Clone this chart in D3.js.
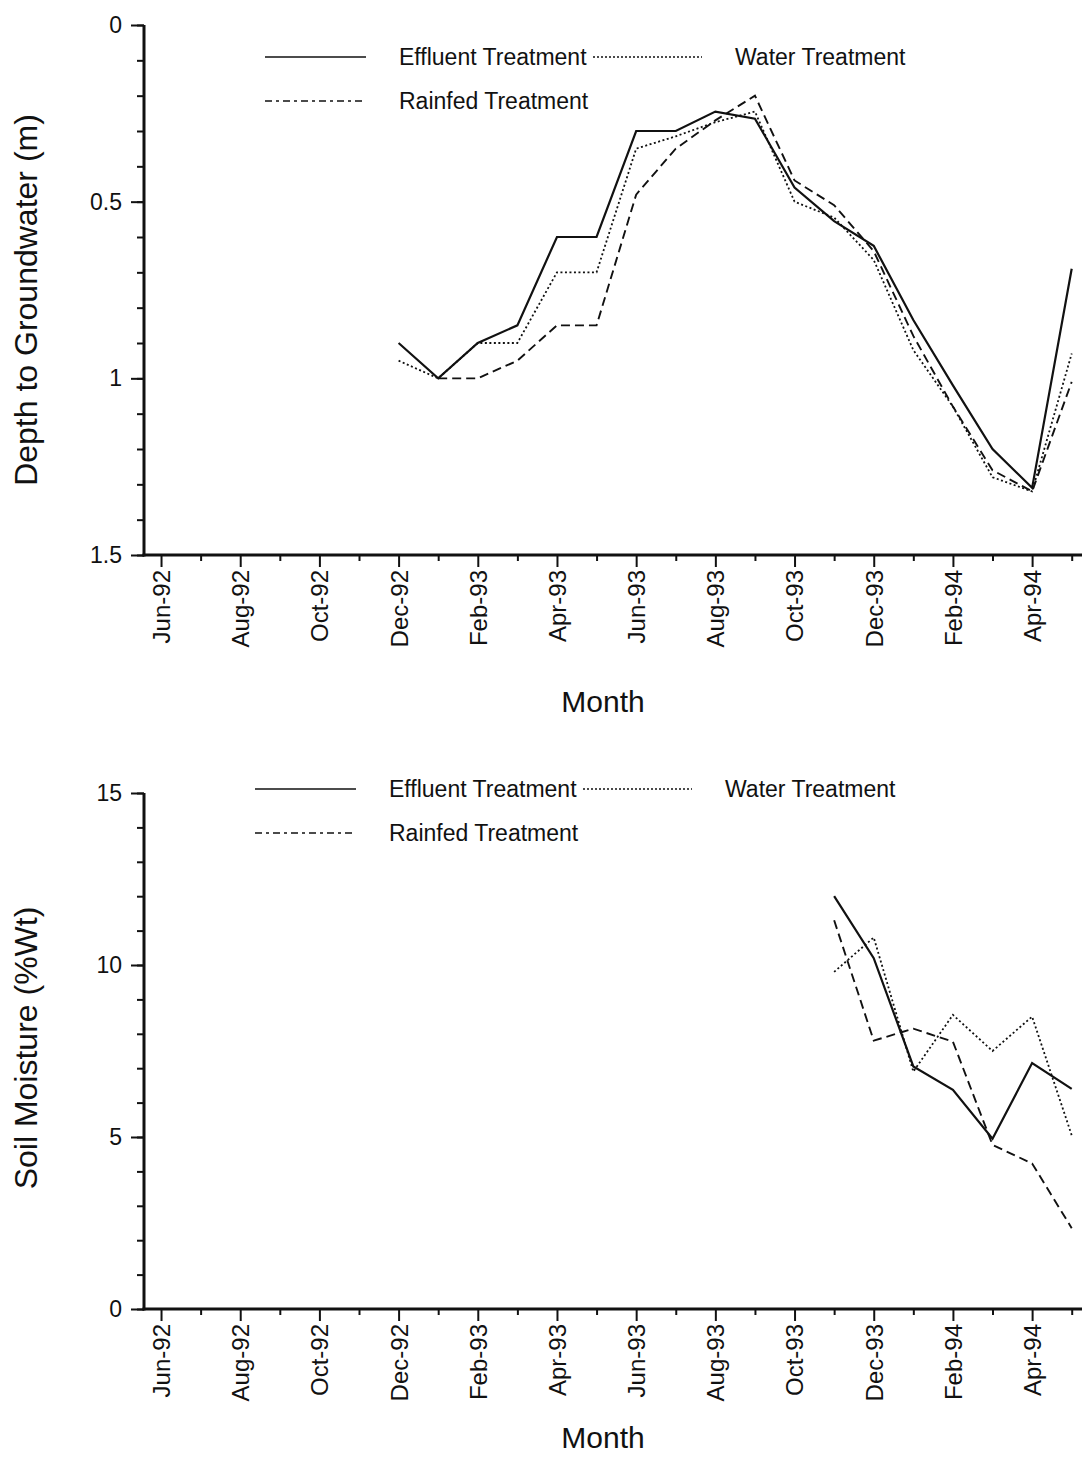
<!DOCTYPE html>
<html><head><meta charset="utf-8">
<script src="https://cdn.jsdelivr.net/npm/d3@7"></script>
<style>body{margin:0;background:#fff}svg{display:block}text{font-family:"Liberation Sans",Arial,sans-serif;fill:#111}</style>
</head><body>
<svg id="chart" width="1082" height="1469"></svg>
<script>
// Months (index 0 = Jun-92)
const months = ["Jun-92","Jul-92","Aug-92","Sep-92","Oct-92","Nov-92","Dec-92","Jan-93","Feb-93","Mar-93","Apr-93","May-93","Jun-93","Jul-93","Aug-93","Sep-93","Oct-93","Nov-93","Dec-93","Jan-94","Feb-94","Mar-94","Apr-94","May-94"];
const tickLabels = ["Jun-92","Aug-92","Oct-92","Dec-92","Feb-93","Apr-93","Jun-93","Aug-93","Oct-93","Dec-93","Feb-94","Apr-94"];

// Depth to groundwater (m), Dec-92 .. May-94
const depthMonths = ["Dec-92","Jan-93","Feb-93","Mar-93","Apr-93","May-93","Jun-93","Jul-93","Aug-93","Sep-93","Oct-93","Nov-93","Dec-93","Jan-94","Feb-94","Mar-94","Apr-94","May-94"];
const effluentDepth = [0.90,1.00,0.90,0.85,0.60,0.60,0.30,0.30,0.245,0.265,0.46,0.555,0.625,0.835,1.02,1.20,1.31,0.69];
const waterDepth    = [0.95,1.00,0.90,0.90,0.70,0.70,0.35,0.315,0.275,0.245,0.50,0.545,0.665,0.92,1.08,1.28,1.32,0.93];
const rainfedDepth  = [null,1.00,1.00,0.95,0.85,0.85,0.48,0.35,0.27,0.20,0.44,0.51,0.64,0.88,1.08,1.26,1.32,1.01];

// Soil moisture (%Wt), Nov-93 .. May-94
const moistMonths = ["Nov-93","Dec-93","Jan-94","Feb-94","Mar-94","Apr-94","May-94"];
const effluentMoist = [12.0,10.2,7.05,6.37,4.95,7.15,6.4];
const waterMoist    = [9.8,10.8,6.9,8.55,7.5,8.5,5.05];
const rainfedMoist  = [11.3,7.8,8.15,7.77,4.77,4.23,2.35];

const seriesNames = ["Effluent Treatment","Water Treatment","Rainfed Treatment"];
const dashes = {"Effluent Treatment":null,"Water Treatment":"2,2.5","Rainfed Treatment":"9,5"};
const legendDashes = {"Effluent Treatment":null,"Water Treatment":"2,2","Rainfed Treatment":"7,4,3,4"};
const widths = {"Effluent Treatment":2.2,"Water Treatment":1.8,"Rainfed Treatment":1.9};

const svg = d3.select("#chart");

function panel(cfg){
  const x = d3.scaleLinear().domain([-0.43, 23.26]).range([144, 1082]);
  const y = d3.scaleLinear().domain(cfg.yDomain).range([cfg.top, cfg.bottom]);
  const g = svg.append("g");

  // y minor ticks
  const yMinor = d3.range(cfg.yMin, cfg.yMax + 1e-9, cfg.minorStep);
  g.append("g").attr("transform","translate(144,0)")
    .call(d3.axisLeft(y).tickValues(yMinor).tickSize(7).tickFormat(""))
    .call(s=>s.select(".domain").remove())
    .selectAll("line").attr("stroke","#111").attr("stroke-width",2);
  // y major
  const ya = g.append("g").attr("transform","translate(144,0)")
    .call(d3.axisLeft(y).tickValues(cfg.yTicks).tickSize(13).tickPadding(9).tickFormat(d=>String(d)));
  ya.select(".domain").remove();
  ya.selectAll("line").attr("stroke","#111").attr("stroke-width",2);
  ya.selectAll("text").style("font-size","23px").attr("fill","#111");

  // x minor ticks
  g.append("g").attr("transform",`translate(0,${cfg.bottom})`)
    .call(d3.axisBottom(x).tickValues(d3.range(1,24,2)).tickSize(6).tickFormat(""))
    .call(s=>s.select(".domain").remove())
    .selectAll("line").attr("stroke","#111").attr("stroke-width",2);
  const xa = g.append("g").attr("transform",`translate(0,${cfg.bottom})`)
    .call(d3.axisBottom(x).tickValues(tickLabels.map(l=>months.indexOf(l))).tickSize(12).tickFormat(d=>months[d]));
  xa.select(".domain").remove();
  xa.selectAll("line").attr("stroke","#111").attr("stroke-width",2);
  xa.selectAll("text").style("font-size","24px").attr("fill","#111")
    .attr("transform","rotate(-90)").attr("text-anchor","end")
    .attr("x",-15).attr("y",0).attr("dy","0.35em");

  // axis lines
  g.append("line").attr("x1",144).attr("x2",144).attr("y1",cfg.top).attr("y2",cfg.bottom+1.5)
    .attr("stroke","#111").attr("stroke-width",3);
  g.append("line").attr("x1",142.5).attr("x2",1082).attr("y1",cfg.bottom).attr("y2",cfg.bottom)
    .attr("stroke","#111").attr("stroke-width",3);

  // titles
  g.append("text").attr("x",603).attr("y",cfg.monthY).attr("text-anchor","middle")
    .style("font-size","30px").text("Month");
  g.append("text").attr("transform",`translate(37,${cfg.yTitleY}) rotate(-90)`)
    .attr("text-anchor","middle").style("font-size","32px").text(cfg.yTitle);

  // lines
  const line = d3.line().defined(d=>d.v!==null).x(d=>x(months.indexOf(d.m))).y(d=>y(d.v));
  cfg.series.forEach(s=>{
    const data = cfg.months.map((m,i)=>({m, v:s.values[i]}));
    g.append("path").datum(data).attr("d",line).attr("fill","none")
      .attr("stroke","#111").attr("stroke-width",widths[s.name])
      .attr("stroke-dasharray",dashes[s.name]).attr("stroke-linejoin","miter");
  });

  // legend
  const L = cfg.legend;
  const items = [
    {name:seriesNames[0], x1:L.x0, x2:L.x0+101, tx:L.x0+134, y:L.y0},
    {name:seriesNames[1], x1:L.x1, x2:L.x1+109, tx:L.x1+142, y:L.y0},
    {name:seriesNames[2], x1:L.x0, x2:L.x0+101, tx:L.x0+134, y:L.y0+44}
  ];
  items.forEach(it=>{
    g.append("line").attr("x1",it.x1).attr("x2",it.x2).attr("y1",it.y).attr("y2",it.y)
      .attr("stroke","#111").attr("stroke-width",it.name==="Effluent Treatment"?1.6:1.4)
      .attr("stroke-dasharray",legendDashes[it.name]);
    g.append("text").attr("x",it.tx).attr("y",it.y).attr("dy","0.35em")
      .style("font-size","23px").text(it.name);
  });
}

panel({
  top:25, bottom:555, yDomain:[0,1.5], yMin:0, yMax:1.5, minorStep:0.1,
  yTicks:[0,0.5,1,1.5], yTitle:"Depth to Groundwater (m)", yTitleY:300, monthY:712,
  months:depthMonths,
  series:[{name:seriesNames[0],values:effluentDepth},{name:seriesNames[1],values:waterDepth},{name:seriesNames[2],values:rainfedDepth}],
  legend:{x0:265, x1:593, y0:57}
});
panel({
  top:793, bottom:1309, yDomain:[15,0], yMin:0, yMax:15, minorStep:1,
  yTicks:[0,5,10,15], yTitle:"Soil Moisture (%Wt)", yTitleY:1048, monthY:1448,
  months:moistMonths,
  series:[{name:seriesNames[0],values:effluentMoist},{name:seriesNames[1],values:waterMoist},{name:seriesNames[2],values:rainfedMoist}],
  legend:{x0:255, x1:583, y0:789}
});
</script>
</body></html>
